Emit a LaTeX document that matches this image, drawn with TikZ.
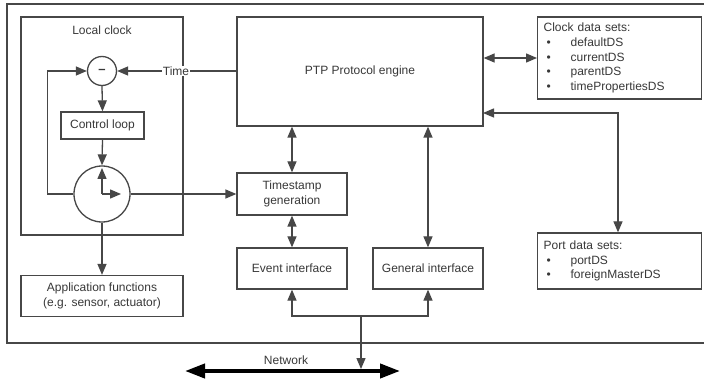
\documentclass[tikz,border=0pt]{standalone}
\usepackage{fontspec}
\setmainfont{Liberation Sans}
\usetikzlibrary{arrows.meta}
\begin{document}
\begin{tikzpicture}[x=1pt,y=-1pt,
  line width=1.3pt, draw=black!72, text=black!78,
  font=\fontsize{12}{14.7}\selectfont,
  box/.style={draw, rectangle, inner sep=0pt, align=center},
  dsbox/.style={draw, rectangle, inner xsep=6pt, inner ysep=0pt, align=left, anchor=west},
  sumjunction/.style={draw, circle, inner sep=0pt},
  arr/.style={-{Triangle[length=11pt,width=9pt]}},
  darr/.style={{Triangle[length=11pt,width=9pt]}-{Triangle[length=11pt,width=9pt]}},
  netarr/.style={line width=4pt,{Triangle[length=20pt,width=14pt]}-{Triangle[length=20pt,width=14pt]}}
]
\useasboundingbox (0,0) rectangle (704,382);
\fill[white] (0,0) rectangle (704,382);

% enclosing device frame (open to the right)
\draw (704,4) -- (7,4) -- (7,343) -- (704,343);

% local clock
\node[box, minimum width=162pt, minimum height=218pt] (lc) at (102,126) {};
\node (lctitle) at (102,30) {Local clock};
\node[sumjunction, minimum size=29pt, font=\bfseries\fontsize{13}{13}\selectfont] (minus) at (102,71) {–};
\node[box, minimum width=83pt, minimum height=27pt] (ctrl) at (102.5,125.5) {Control loop};
\node[sumjunction, minimum size=56pt] (clk) at (102,194) {};
\node[box, minimum width=162pt, minimum height=41pt] (app) at (102,296) {Application functions\\(e.g. sensor, actuator)};

% protocol side
\node[box, minimum width=246pt, minimum height=109pt] (ptp) at (360,71.5) {PTP Protocol engine};
\node[box, minimum width=110pt, minimum height=42pt] (ts) at (292,194) {Timestamp\\generation};
\node[box, minimum width=110pt, minimum height=41pt] (ev) at (292,268.5) {Event interface};
\node[box, minimum width=110pt, minimum height=41pt] (gen) at (428,268.5) {General interface};

% data sets
\node[dsbox, minimum width=164pt, minimum height=82pt, text width=152pt] (cds) at (537,58)
  {Clock data sets:\\
   \hspace{3pt}\makebox[24pt][l]{\textbullet}defaultDS\\
   \hspace{3pt}\makebox[24pt][l]{\textbullet}currentDS\\
   \hspace{3pt}\makebox[24pt][l]{\textbullet}parentDS\\
   \hspace{3pt}\makebox[24pt][l]{\textbullet}timePropertiesDS};
\node[dsbox, minimum width=164pt, minimum height=56pt, text width=152pt] (pds) at (537,261)
  {Port data sets:\\
   \hspace{3pt}\makebox[24pt][l]{\textbullet}portDS\\
   \hspace{3pt}\makebox[24pt][l]{\textbullet}foreignMasterDS};

% clock servo loop
\draw[arr] (ptp.west |- minus) -- (minus.east);
\node[fill=white, inner sep=1pt] (timelbl) at (176,71) {Time};
\draw[arr] (clk.west) -- ++(-26,0) |- (minus.west);
\draw[arr] (minus.south) -- (ctrl.north);
\draw[arr] (ctrl.south) -- (clk.north);
\coordinate (hand12) at (102,168);
\coordinate (hand3) at (121,194);
\draw[arr] (clk.center) -- (hand12);
\draw[arr] (clk.center) -- (hand3);
\draw[arr] (clk.east) -- (ts.west);
\draw[arr] (clk.south) -- (app.north);

% protocol connections
\draw[darr] (ts.north) -- (ts.north |- ptp.south);
\draw[darr] (ts.south) -- (ev.north);
\draw[darr] (ptp.south -| gen.north) -- (gen.north);
\draw[darr] (ptp.east |- cds.west) -- (cds.west);
\coordinate (ptpport) at (483,113);
\draw[darr] (ptpport) -| (pds.north -| 618,0);

% network attachment
\coordinate (junc) at (361,316);
\coordinate (tap) at (361,369);
\draw[arr] (junc) -| (ev.south);
\draw[arr] (junc) -| (gen.south);
\draw[arr] (junc) -- (tap);
\coordinate (netL) at (185,371);
\coordinate (netR) at (400,371);
\draw[netarr, draw=black] (netL) -- (netR);
\node (netlbl) at (286,360) {Network};
\end{tikzpicture}
\end{document}
